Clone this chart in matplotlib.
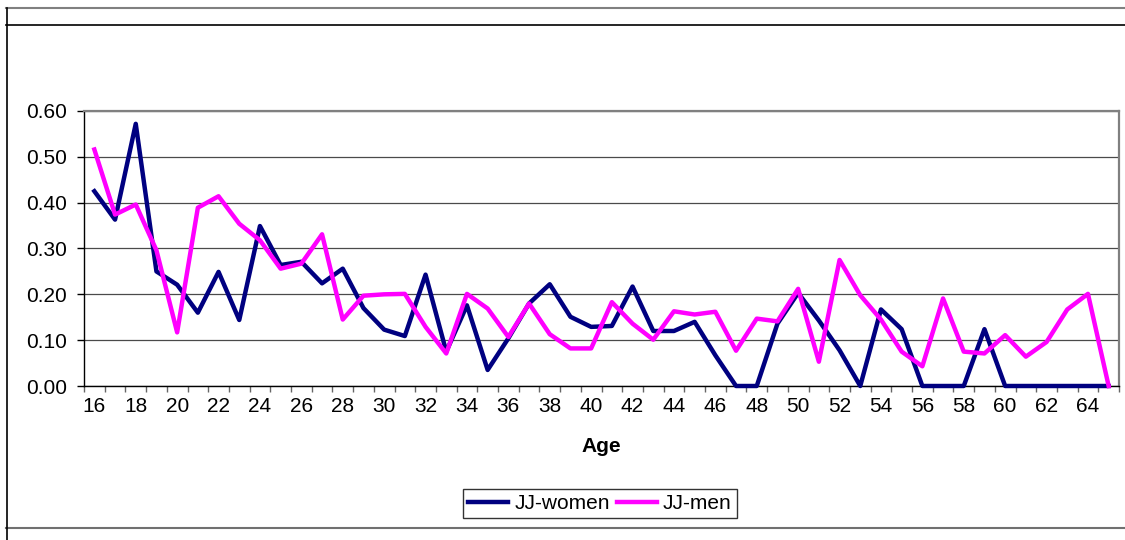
import matplotlib
matplotlib.use("Agg")
import matplotlib.pyplot as plt
from matplotlib.lines import Line2D

# Age categories and rates per series
ages = list(range(16, 66))
jj_women = [0.425, 0.363, 0.572, 0.250, 0.221, 0.160, 0.249, 0.144, 0.349, 0.264,
            0.271, 0.224, 0.256, 0.170, 0.123, 0.109, 0.243, 0.075, 0.176, 0.035,
            0.104, 0.180, 0.222, 0.151, 0.129, 0.131, 0.217, 0.120, 0.120, 0.140,
            0.067, 0.000, 0.000, 0.136, 0.203, 0.143, 0.078, 0.000, 0.167, 0.124,
            0.000, 0.000, 0.000, 0.124, 0.000, 0.000, 0.000, 0.000, 0.000, 0.000]
jj_men = [0.516, 0.374, 0.396, 0.296, 0.117, 0.389, 0.414, 0.354, 0.318, 0.256,
          0.267, 0.331, 0.145, 0.197, 0.200, 0.201, 0.129, 0.071, 0.201, 0.169,
          0.107, 0.180, 0.113, 0.082, 0.082, 0.183, 0.136, 0.101, 0.163, 0.156,
          0.162, 0.077, 0.147, 0.141, 0.212, 0.053, 0.275, 0.198, 0.145, 0.075,
          0.043, 0.191, 0.075, 0.071, 0.111, 0.064, 0.096, 0.167, 0.201, 0.000]
y_ticks = [0.0, 0.1, 0.2, 0.3, 0.4, 0.5, 0.6]

plt.rcParams["font.family"] = ["Liberation Sans", "DejaVu Sans"]

W, H = 1125, 540
fig = plt.figure(figsize=(W / 100, H / 100), dpi=100)
fig.patch.set_facecolor("white")

# Surrounding sheet/frame lines
def hline(y, x0, x1, color, lw):
    fig.add_artist(Line2D([x0 / W, x1 / W], [1 - y / H, 1 - y / H],
                          color=color, lw=lw, transform=fig.transFigure))

def vline(x, y0, y1, color, lw):
    fig.add_artist(Line2D([x / W, x / W], [1 - y0 / H, 1 - y1 / H],
                          color=color, lw=lw, transform=fig.transFigure))

hline(8, 6, W, "#808080", 1.5)
hline(25, 6, W, "#000000", 1.2)
hline(528, 6, W, "#707070", 1.5)
vline(6.5, 8, H, "#000000", 1.2)

# Plot area
left, right, top, bottom = 84, 1119, 111, 386
ax = fig.add_axes([left / W, 1 - bottom / H, (right - left) / W, (bottom - top) / H])

x = list(range(len(ages)))
ax.plot(x, jj_women, color="#000080", lw=3.2, label="JJ-women", clip_on=False, zorder=3)
ax.plot(x, jj_men, color="#FF00FF", lw=3.2, label="JJ-men", clip_on=False, zorder=4)

ax.set_xlim(-0.5, len(ages) - 0.5)
ax.set_ylim(0, 0.6)

# Y axis
ax.set_yticks(y_ticks)
ax.set_yticklabels([f"{v:.2f}" for v in y_ticks])
ax.tick_params(axis="y", direction="out", length=5, width=1, color="#000000",
               labelsize=15, pad=7)
ax.yaxis.grid(True, color="#4a4a4a", lw=0.9)
ax.set_axisbelow(True)

# X axis: boundary ticks, labels on every other category
ax.set_xticks([i - 0.5 for i in range(len(ages) + 1)])
ax.set_xticklabels([])
ax.tick_params(axis="x", which="major", direction="out", length=4.5, width=1,
               color="#666666")
ax.set_xticks(x[::2], minor=True)
ax.set_xticklabels([str(a) for a in ages[::2]], minor=True)
ax.tick_params(axis="x", which="minor", length=0, labelsize=15, pad=8)

ax.set_xlabel("Age", fontsize=15, fontweight="bold")
ax.xaxis.set_label_coords(0.5, -(447 - bottom) / (bottom - top))
ax.xaxis.label.set_va("center")

for side in ("left", "bottom"):
    ax.spines[side].set_color("#000000")
    ax.spines[side].set_linewidth(1.0)
for side in ("top", "right"):
    ax.spines[side].set_color("#808080")
    ax.spines[side].set_linewidth(1.6)

leg = fig.legend(loc="center", bbox_to_anchor=(600 / W, 1 - 503.5 / H),
                 ncol=2, fontsize=15, frameon=True, fancybox=False,
                 edgecolor="#000000", handlelength=1.9, handletextpad=0.3,
                 columnspacing=0.35, borderpad=0.25, borderaxespad=0)
leg.get_frame().set_linewidth(1.0)

fig.savefig("out.png", dpi=100, facecolor="white")
